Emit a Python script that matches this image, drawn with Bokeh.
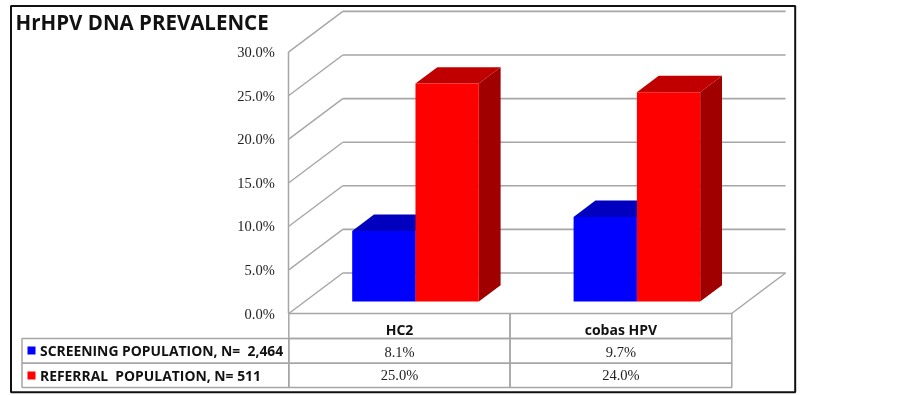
from bokeh.embed import file_html
from bokeh.resources import INLINE
from bokeh.plotting import figure
from bokeh.models import (Range1d, FixedTicker, PrintfTickFormatter, BoxAnnotation,
                          Legend, LegendItem)
from bokeh.core.properties import value

# ---- data ----
title_text = "HrHPV DNA PREVALENCE"
categories = ["HC2", "cobas HPV"]
screening = [8.1, 9.7]
referral = [25.0, 24.0]
screening_label = "SCREENING POPULATION, N=  2,464"
referral_label = "REFERRAL  POPULATION, N= 511"
y_ticks = [0, 5, 10, 15, 20, 25, 30]

# ---- layout ----
W, H = 902, 395
X0, Y0 = 288.3, 313.0      # page pixel of the origin of the front plane
PX_X, PX_Y = 221.4, 8.72   # page pixels per category / per percent
fx = lambda px: (px - X0) / PX_X
fy = lambda py: (Y0 - py) / PX_Y
DX, DY = 54 / PX_X, 40.5 / PX_Y   # full depth of the box in data units
BAR_W = 63.3 / PX_X
BAR_D0, BAR_D1 = 0.296, 0.70      # bar depth extent as a share of the box depth
GREY = "#a6a6a6"

p = figure(width=W, height=H, output_backend="svg", toolbar_location=None,
           x_range=Range1d(fx(0), fx(W)),
           y_range=Range1d(fy(H), fy(0)),
           min_border_left=0, min_border_right=0, min_border_top=0, min_border_bottom=0,
           x_axis_location=None, outline_line_color=None)
p.styles = {"position": "fixed", "left": "0px", "top": "0px"}
p.grid.visible = False

# y axis
ax = p.yaxis[0]
ax.fixed_location = 0
ax.ticker = FixedTicker(ticks=y_ticks)
ax.formatter = PrintfTickFormatter(format="%.1f%%")
ax.bounds = (0, 30)
ax.major_tick_line_color = None
ax.minor_tick_line_color = None
ax.axis_line_color = GREY
ax.axis_line_width = 1.5
ax.major_label_standoff = 8
ax.major_label_text_font = "Liberation Serif"
ax.major_label_text_font_size = "14.5px"
ax.major_label_text_color = "#222222"

# walls
xright = len(categories)
p.segment([0] * len(y_ticks), y_ticks, [DX] * len(y_ticks), [t + DY for t in y_ticks],
          line_color=GREY, line_width=1.4)
p.segment([DX] * len(y_ticks), [t + DY for t in y_ticks],
          [xright + DX] * len(y_ticks), [t + DY for t in y_ticks],
          line_color=GREY, line_width=1.6)
p.line([xright, xright + DX], [0, DY], line_color=GREY, line_width=1.4)

# bars
def bar(i, val, off, front, top, side):
    c = i + 0.5 + BAR_D0 * DX
    l, r = c + off * BAR_W, c + (off + 1) * BAR_W
    b0 = BAR_D0 * DY
    d = (BAR_D1 - BAR_D0)
    ddx, ddy = d * DX, d * DY
    t = b0 + val
    p.patch([r, r + ddx, r + ddx, r], [b0, b0 + ddy, t + ddy, t], fill_color=side, line_color=None)
    p.patch([l, l + ddx, r + ddx, r], [t, t + ddy, t + ddy, t], fill_color=top, line_color=None)
    return p.quad(left=[l], right=[r], bottom=[b0], top=[t], fill_color=front, line_color=None)

rb = None
for i, v in enumerate(screening):
    rb = bar(i, v, -1, "#0000ff", "#0000be", "#000090")
rr = None
for i, v in enumerate(referral):
    rr = bar(i, v, 0, "#ff0000", "#c00000", "#a00000")

# table grid
rows = [313.0, 338, 362.7, 387]
col_x = [21.5, X0, 509.5, 731.3]
def cell(x0, x1, y0, y1):
    p.add_layout(BoxAnnotation(left=fx(x0), right=fx(x1), top=fy(y0), bottom=fy(y1),
                               fill_alpha=0, line_color=GREY, line_alpha=1, line_width=1.5, level="underlay"))
for j in range(2):
    for k in range(3):
        cell(col_x[j + 1], col_x[j + 2], rows[k], rows[k + 1])
for k in (1, 2):
    cell(col_x[0], col_x[1], rows[k], rows[k + 1])

# outer frame
p.add_layout(BoxAnnotation(left=fx(10.5), right=fx(794.7), top=fy(5.5), bottom=fy(391.7),
                           fill_alpha=0, line_color="#111111", line_alpha=1, line_width=2))

# table text
cx = [i + 0.5 for i in range(len(categories))]
p.text(cx, [fy(328.5)] * 2, text=categories, text_align="center", text_baseline="middle",
       text_font=value("Open Sans"), text_font_style="bold", text_font_size="14px", text_color="#111111")
p.text(cx, [fy(351)] * 2, text=[f"{v:.1f}%" for v in screening], text_align="center", text_baseline="middle",
       text_font=value("Liberation Serif"), text_font_size="14.5px", text_color="#222222")
p.text(cx, [fy(374.5)] * 2, text=[f"{v:.1f}%" for v in referral], text_align="center", text_baseline="middle",
       text_font=value("Liberation Serif"), text_font_size="14.5px", text_color="#222222")

# title
p.text([fx(15)], [fy(21)], text=[title_text], text_baseline="middle",
       text_font=value("Open Sans"), text_font_style="bold", text_font_size="20.5px", text_color="#111111")

# legend
leg = Legend(items=[LegendItem(label=screening_label, renderers=[rb]),
                    LegendItem(label=referral_label, renderers=[rr])],
             location=(26, int(H - 385)), orientation="vertical",
             padding=0, margin=0, spacing=5, label_height=20, glyph_height=10, glyph_width=10,
             label_standoff=4, background_fill_alpha=0, border_line_color=None,
             label_text_font="Open Sans", label_text_font_style="bold",
             label_text_font_size="13.9px", label_text_color="#111111")
p.add_layout(leg)

open("out.html", "w").write(file_html(p, INLINE))
